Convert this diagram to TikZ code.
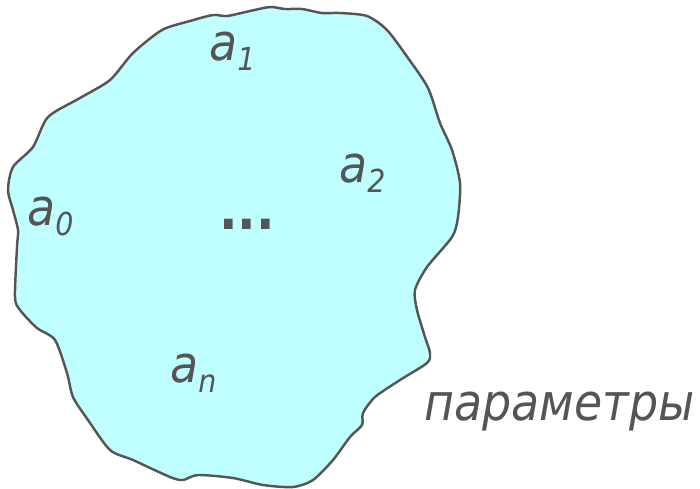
\documentclass[tikz,border=0pt]{standalone}
\usepackage{fontspec}
\setmainfont{DejaVu Sans Condensed}
\usepackage{xcolor}
\usepackage{tikz}

\definecolor{blobfill}{HTML}{C0FFFF}
\definecolor{ink}{HTML}{555555}

\newcommand{\idx}[1]{\raisebox{-6pt}{\fontsize{18}{18}\selectfont #1}}

\tikzset{
  lbl/.style={text=ink, inner sep=0pt, anchor=base west,
    font=\fontsize{29}{31}\selectfont\itshape}
}

\begin{document}
\begin{tikzpicture}[x=0.02cm, y=-0.02cm]

\useasboundingbox (0,0) rectangle (700,488);

\draw[line width=1.4pt, draw=ink, fill=blobfill]
  plot[smooth cycle, tension=0.45] coordinates {
  (162,30) (190,21) (213,15) (227,16) (250,11) (270,7) (285,9) (302,9)
  (322,13) (340,13) (367,16) (387,30) (408,58) (428,88) (440,123)
  (452,150) (460,183) (458,217) (452,237) (427,267) (415,290) (417,310)
  (425,337) (430,353) (427,363) (400,380) (375,397) (363,413) (362,425)
  (350,437) (333,460) (313,480) (293,487) (263,485) (233,478) (198,475)
  (183,480) (170,477) (133,460) (110,450) (88,420) (73,397) (67,373)
  (55,340) (37,328) (20,310) (15,297) (17,247) (18,230) (13,210) (8,190)
  (13,167) (33,147) (48,117) (80,98) (110,80) (133,53)};

\node[lbl] (a1) at (209,60) {a\idx{1}};
\node[lbl] (a2) at (339,182) {a\idx{2}};
\node[lbl] (a0) at (27,225) {a\idx{0}};
\node[lbl] (an) at (170,382) {a\idx{n}};
\node[lbl, font=\fontsize{31}{33}\selectfont\bfseries] (dots) at (219,229) {...};
\node[lbl] (params) at (424,420) {параметры};

\end{tikzpicture}
\end{document}
